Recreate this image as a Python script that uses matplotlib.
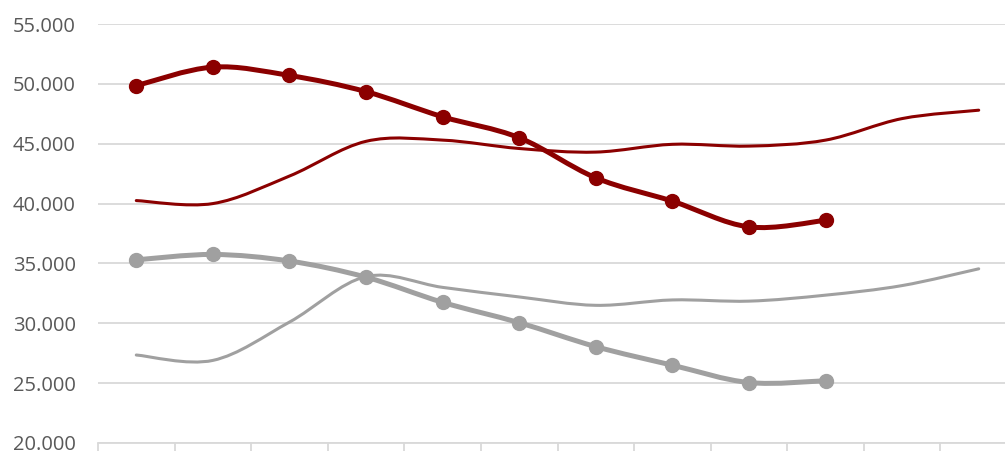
import matplotlib.pyplot as plt
from matplotlib.path import Path
from matplotlib.patches import PathPatch
from matplotlib.ticker import FuncFormatter

# 12 categories (unlabelled on the x axis)
categories = list(range(12))

red_thick = [49850, 51400, 50700, 49350, 47250, 45500, 42150, 40200, 38050, 38600]
red_thin = [40250, 40000, 42300, 45200, 45300, 44600, 44300, 44950, 44800, 45300, 47100, 47800]
gray_thick = [35300, 35750, 35200, 33850, 31750, 30050, 28050, 26500, 25050, 25200]
gray_thin = [27350, 26900, 30100, 33900, 33000, 32200, 31500, 31950, 31850, 32350, 33150, 34550]

y_ticks = [20000, 25000, 30000, 35000, 40000, 45000, 50000, 55000]

RED = "#8B0000"
GRAY = "#A0A0A0"


def smooth_path(xs, ys):
    """Excel-like smoothed line as a cubic bezier path"""
    pts = list(zip(xs, ys))
    n = len(pts)
    verts = [pts[0]]
    codes = [Path.MOVETO]
    for i in range(n - 1):
        p0 = pts[i - 1] if i > 0 else pts[i]
        p1 = pts[i]
        p2 = pts[i + 1]
        p3 = pts[i + 2] if i + 2 < n else pts[i + 1]
        c1 = (p1[0] + (p2[0] - p0[0]) / 6, p1[1] + (p2[1] - p0[1]) / 6)
        c2 = (p2[0] - (p3[0] - p1[0]) / 6, p2[1] - (p3[1] - p1[1]) / 6)
        verts += [c1, c2, p2]
        codes += [Path.CURVE4] * 3
    return Path(verts, codes)


fig = plt.figure(figsize=(10.05, 4.51), dpi=100)
ax = fig.add_axes([98 / 1005, 8 / 451, 919 / 1005, 419 / 451])

for vals, col, lw, marker in [
    (red_thin, RED, 2.2, False),
    (gray_thin, GRAY, 2.2, False),
    (gray_thick, GRAY, 3.6, True),
    (red_thick, RED, 3.6, True),
]:
    xs = categories[:len(vals)]
    ax.add_patch(PathPatch(smooth_path(xs, vals), facecolor="none", edgecolor=col,
                           lw=lw, capstyle="round", joinstyle="round", zorder=3))
    if marker:
        ax.plot(xs, vals, linestyle="none", marker="o", markersize=10,
                color=col, zorder=4)

ax.set_xlim(-0.5, 11.5)
ax.set_ylim(20000, 55000)
ax.set_yticks(y_ticks)
ax.yaxis.set_major_formatter(FuncFormatter(lambda v, p: f"{v / 1000:.3f}"))
ax.set_xticks([i - 0.5 for i in range(13)])
ax.set_xticklabels([])

ax.grid(axis="y", color="#D9D9D9", lw=1.3)
ax.set_axisbelow(True)
for s in ["left", "right", "top"]:
    ax.spines[s].set_visible(False)
ax.spines["bottom"].set_color("#D9D9D9")
ax.spines["bottom"].set_linewidth(1.3)
ax.tick_params(axis="x", length=7, width=1.3, color="#D9D9D9", direction="out")
ax.tick_params(axis="y", length=0, pad=16, labelsize=14.5, labelcolor="#595959")
for lbl in ax.get_yticklabels():
    lbl.set_family("Open Sans")

fig.savefig("out.png", dpi=100)
